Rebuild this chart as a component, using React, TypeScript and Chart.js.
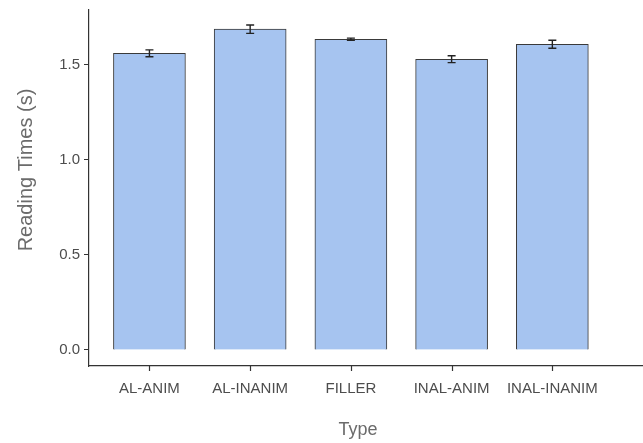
import React, { useEffect, useRef } from "react";
import { Chart, registerables } from "chart.js";

Chart.register(...registerables);

const categories = ["AL-ANIM", "AL-INANIM", "FILLER", "INAL-ANIM", "INAL-INANIM"];
const means = [1.561, 1.688, 1.635, 1.530, 1.609];
const errors = [0.018, 0.022, 0.006, 0.018, 0.021];
const yTicks = [0, 0.5, 1.0, 1.5];
const yTitle = "Reading Times (s)";
const xTitle = "Type";

const errorBarPlugin = {
  id: "errorBars",
  afterDatasetsDraw(chart: any) {
    const ctx = chart.ctx;
    const xs = chart.scales.x;
    const ys = chart.scales.y;
    ctx.save();
    ctx.strokeStyle = "#222222";
    ctx.lineWidth = 1.4;
    means.forEach((m, i) => {
      const x = xs.getPixelForValue(i);
      const yLo = ys.getPixelForValue(m - errors[i]);
      const yHi = ys.getPixelForValue(m + errors[i]);
      ctx.beginPath();
      ctx.moveTo(x, yLo);
      ctx.lineTo(x, yHi);
      ctx.moveTo(x - 4, yLo);
      ctx.lineTo(x + 4, yLo);
      ctx.moveTo(x - 4, yHi);
      ctx.lineTo(x + 4, yHi);
      ctx.stroke();
    });
    // x-axis tick marks
    ctx.strokeStyle = "#333333";
    ctx.lineWidth = 1.2;
    const yb = chart.chartArea.bottom;
    categories.forEach((_, i) => {
      const x = Math.round(xs.getPixelForValue(i)) + 0.5;
      ctx.beginPath();
      ctx.moveTo(x, yb);
      ctx.lineTo(x, yb + 5);
      ctx.stroke();
    });
    ctx.restore();
  },
};

const titlePlugin = {
  id: "axisTitles",
  afterDraw(chart: any) {
    const ctx = chart.ctx;
    ctx.save();
    ctx.fillStyle = "#6b6b6b";
    ctx.textAlign = "center";
    ctx.textBaseline = "middle";
    ctx.font = "18px 'Liberation Sans'";
    ctx.fillText(xTitle, 358, 430);
    ctx.font = "20px 'Liberation Sans'";
    ctx.translate(26, 170);
    ctx.rotate(-Math.PI / 2);
    ctx.fillText(yTitle, 0, 0);
    ctx.restore();
  },
};

export default function App() {
  const ref = useRef<HTMLCanvasElement | null>(null);
  useEffect(() => {
    if (!ref.current) return;
    const chart = new Chart(ref.current, {
      type: "bar",
      data: {
        datasets: [
          {
            data: means.map((v, i) => ({ x: i, y: v })),
            backgroundColor: "#a6c4f0",
            borderColor: "#3a3a3a",
            borderWidth: 1,
            barThickness: 72,
          },
        ],
      },
      options: {
        animation: false,
        responsive: false,
        layout: { padding: { top: 10, right: 0, bottom: 0, left: 0 } },
        plugins: { legend: { display: false }, tooltip: { enabled: false } },
        scales: {
          x: {
            type: "linear",
            offset: false,
            min: -0.6,
            max: 4.9,
            afterBuildTicks: (axis: any) => {
              axis.ticks = categories.map((_, i) => ({ value: i }));
            },
            afterFit: (axis: any) => {
              axis.height = 77;
              axis.paddingLeft = 0;
              axis.paddingRight = 0;
            },
            border: { display: true, color: "#333333", width: 1.2 },
            grid: { display: false },
            ticks: {
              autoSkip: false,
              maxRotation: 0,
              padding: 6,
              color: "#4d4d4d",
              font: { family: "'Liberation Sans'", size: 15 },
              callback: (v: any) => categories[v as number] ?? "",
            },
          },
          y: {
            type: "linear",
            min: -0.0842,
            max: 1.789,
            afterBuildTicks: (axis: any) => {
              axis.ticks = yTicks.map((v) => ({ value: v }));
            },
            afterFit: (axis: any) => {
              axis.width = 89;
              axis.paddingTop = 0;
              axis.paddingBottom = 0;
            },
            border: { display: true, color: "#333333", width: 1.2 },
            grid: { drawOnChartArea: false, drawTicks: true, tickLength: 5, color: "#333333" },
            ticks: {
              padding: 4,
              color: "#4d4d4d",
              font: { family: "'Liberation Sans'", size: 15 },
              callback: (v: any) => Number(v).toFixed(1),
            },
          },
        },
      },
      plugins: [errorBarPlugin, titlePlugin],
    } as any);
    return () => chart.destroy();
  }, []);
  return (
    <div style={{ position: "fixed", left: 0, top: 0, width: 643, height: 443, background: "#fff" }}>
      <canvas ref={ref} width={643} height={443} style={{ width: 643, height: 443 }} />
    </div>
  );
}
